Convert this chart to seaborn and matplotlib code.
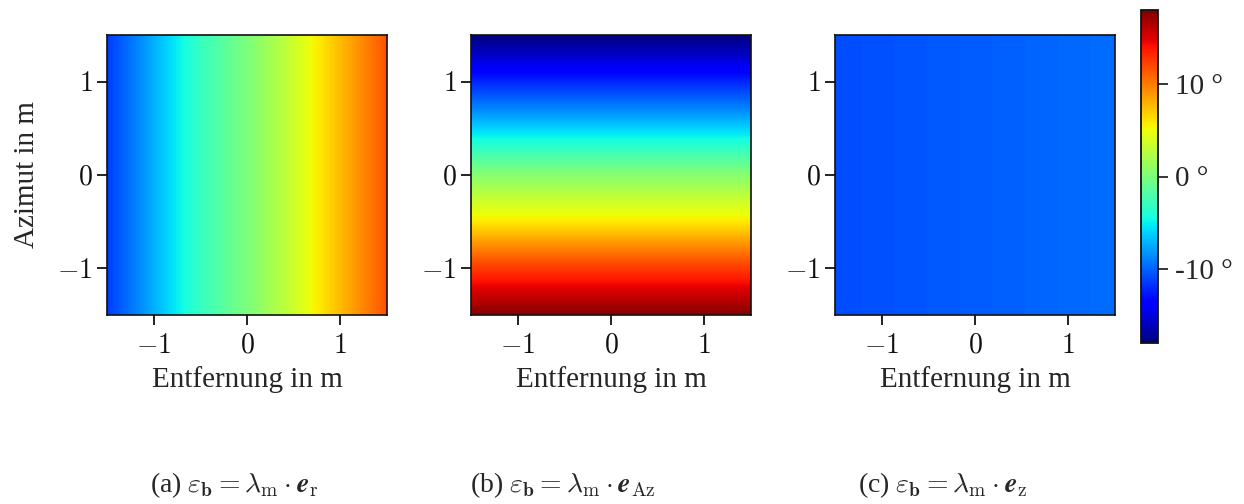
import numpy as np
import matplotlib
matplotlib.use("Agg")
import matplotlib.pyplot as plt
import seaborn as sns

# Sample positions (m) along Entfernung / Azimut
sample_pos_m = [-1.5, -1.25, -1.0, -0.75, -0.5, -0.25, 0.0, 0.25, 0.5, 0.75, 1.0, 1.25, 1.5]

# Error angle in degrees for each error source
eps_r_deg = [-11.4, -9.4, -7.3, -5.1, -3.1, -1.5, 0.0, 1.7, 3.5, 5.6, 7.6, 9.6, 11.6]      # along Entfernung
eps_az_deg = [17.8, 15.3, 12.5, 9.3, 5.8, 3.2, 0.5, -2.7, -6.0, -9.2, -12.1, -15.3, -18.0]  # along Azimut
eps_z_deg = [-10.8, -10.7, -10.6, -10.5, -10.4, -10.3, -10.2, -10.1, -10.0, -9.9, -9.8, -9.7, -9.6]  # along Entfernung

cbar_ticks = [-10, 0, 10]
cbar_labels = ["-10 °", "0 °", "10 °"]
axis_ticks = [-1, 0, 1]
captions = [r"(a) $\boldsymbol{\varepsilon}_\mathbf{b} = \lambda_\mathrm{m} \cdot \boldsymbol{e}_\mathrm{r}$",
            r"(b) $\boldsymbol{\varepsilon}_\mathbf{b} = \lambda_\mathrm{m} \cdot \boldsymbol{e}_\mathrm{Az}$",
            r"(c) $\boldsymbol{\varepsilon}_\mathbf{b} = \lambda_\mathrm{m} \cdot \boldsymbol{e}_\mathrm{z}$"]
caption_x = [150, 470, 858]

sns.set_theme(style="ticks")
plt.rcParams["font.family"] = ["Liberation Serif", "DejaVu Serif"]
plt.rcParams["mathtext.fontset"] = "cm"
plt.rcParams["axes.linewidth"] = 1.2
plt.rcParams["axes.edgecolor"] = "#111111"

n = len(sample_pos_m)
# 2-D fields: rows = Azimut (bottom to top), columns = Entfernung
field_r = np.tile(np.asarray(eps_r_deg), (n, 1))
field_az = np.tile(np.asarray(eps_az_deg)[:, None], (1, n))
field_z = np.tile(np.asarray(eps_z_deg), (n, 1))

vmin, vmax = -18, 18
W, H = 1244, 504
fig = plt.figure(figsize=(W / 100, H / 100), dpi=100)

lefts = [107, 471, 835]
half = (sample_pos_m[1] - sample_pos_m[0]) / 2
ext = [sample_pos_m[0] - half, sample_pos_m[-1] + half, sample_pos_m[0] - half, sample_pos_m[-1] + half]


def tick_text(t):
    return rf"${t}$" if t >= 0 else rf"$-{abs(t)}$"


for i, (lp, fld) in enumerate(zip(lefts, [field_r, field_az, field_z])):
    ax = fig.add_axes([lp / W, (H - 315) / H, 280 / W, 280 / H])
    im = ax.imshow(fld, cmap="jet", vmin=vmin, vmax=vmax, origin="lower", extent=ext,
                   interpolation="bilinear", interpolation_stage="data", aspect="auto")
    ax.set_xlim(-1.5, 1.5)
    ax.set_ylim(-1.5, 1.5)
    ax.set_xticks(axis_ticks)
    ax.set_yticks(axis_ticks)
    ax.set_xticklabels([tick_text(t) for t in axis_ticks])
    ax.set_yticklabels([tick_text(t) for t in axis_ticks])
    ax.tick_params(direction="out", length=7.5, width=1.3, labelsize=20, colors="#111111")
    ax.tick_params(axis="x", pad=6)
    ax.tick_params(axis="y", pad=3)
    ax.set_xlabel("Entfernung in m", fontsize=21, labelpad=5)
    if i == 0:
        ax.set_ylabel("Azimut in m", fontsize=21, labelpad=12)
    fig.text(caption_x[i] / W, (H - 485) / H, captions[i], fontsize=20, ha="left", va="center")

cax = fig.add_axes([1141 / W, (H - 343) / H, 17 / W, 333 / H])
cb = fig.colorbar(im, cax=cax)
cb.set_ticks(cbar_ticks)
cb.set_ticklabels(cbar_labels)
cb.ax.tick_params(direction="out", length=7.5, width=1.3, labelsize=21, pad=5)
cb.outline.set_linewidth(1.3)

fig.savefig("out.png", dpi=100)
